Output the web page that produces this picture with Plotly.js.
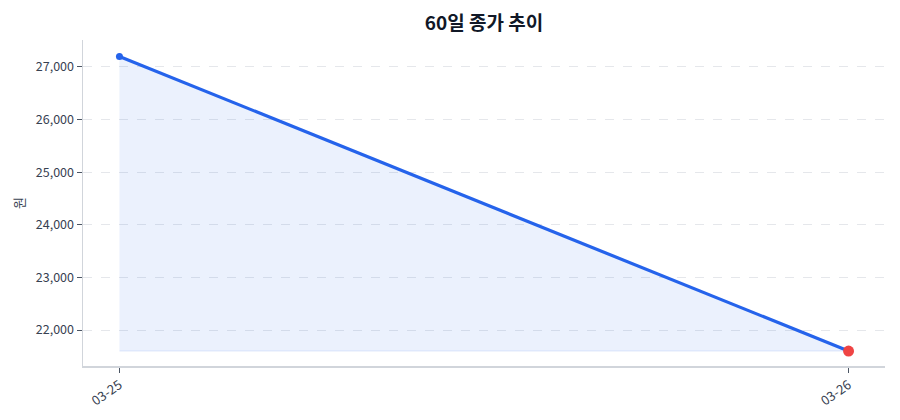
<!DOCTYPE html>
<html>
<head>
<meta charset="utf-8">
<script src="https://cdn.plot.ly/plotly-3.0.1.min.js"></script>
<style>
  body { margin: 0; background: #fff; }
  #chart { width: 900px; height: 420px; }
</style>
</head>
<body>
<div id="chart"></div>
<script>
const dates = ['03-25', '03-26'];
const closes = [27200, 21600];
const yTicks = [22000, 23000, 24000, 25000, 26000, 27000];

const font = 'Noto Sans CJK KR, Noto Sans, sans-serif';
const baseline = Math.min(...closes);
const lastIdx = closes.length - 1;

const traces = [
    {
        x: dates,
        y: dates.map(() => baseline),
        mode: 'lines',
        line: { color: 'rgba(37,99,235,0.12)', width: 1 },
        hoverinfo: 'skip',
        showlegend: false,
    },
    {
        x: dates,
        y: closes,
        mode: 'lines+markers',
        fill: 'tonexty',
        fillcolor: 'rgba(37,99,235,0.09)',
        line: { color: '#2563eb', width: 3.2 },
        marker: { color: '#2563eb', size: 7 },
        showlegend: false,
    },
    {
        x: [dates[lastIdx]],
        y: [closes[lastIdx]],
        mode: 'markers',
        marker: { color: '#ef4444', size: 11 },
        showlegend: false,
    },
];

const layout = {
    width: 900,
    height: 420,
    margin: { l: 83, r: 15, t: 40, b: 54 },
    paper_bgcolor: '#ffffff',
    plot_bgcolor: '#ffffff',
    font: { family: font, color: '#374151', size: 12 },
    title: {
        text: '<b>60일 종가 추이</b>',
        x: 0.5,
        xref: 'paper',
        xanchor: 'center',
        y: 0.945,
        yref: 'container',
        yanchor: 'middle',
        font: { family: font, size: 19, color: '#111827' },
    },
    xaxis: {
        type: 'category',
        range: [-0.05, 1.05],
        tickangle: -35,
        ticks: 'outside',
        ticklen: 5,
        tickcolor: '#4b5563',
        tickfont: { family: font, size: 13, color: '#374151' },
        showgrid: false,
        showline: true,
        linecolor: '#d1d5db',
        linewidth: 1.5,
        zeroline: false,
    },
    yaxis: {
        title: { text: '원', font: { family: font, size: 13, color: '#374151' }, standoff: 8 },
        range: [21316, 27513],
        tickvals: yTicks,
        ticktext: yTicks.map(v => v.toLocaleString('en-US')),
        ticks: 'outside',
        ticklen: 5,
        tickcolor: '#4b5563',
        tickfont: { family: font, size: 12.5, color: '#374151' },
        showgrid: true,
        gridcolor: '#e5e7eb',
        griddash: 'dash',
        gridwidth: 1,
        showline: true,
        linecolor: '#d1d5db',
        linewidth: 1.5,
        zeroline: false,
    },
};

Plotly.newPlot('chart', traces, layout, { displayModeBar: false, staticPlot: true });
</script>
</body>
</html>
